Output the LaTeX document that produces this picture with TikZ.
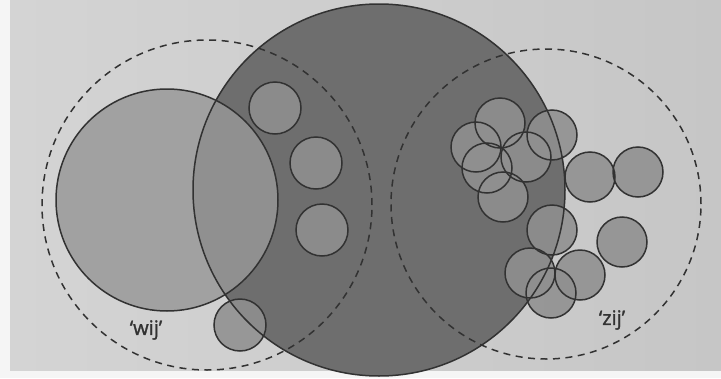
\documentclass[tikz,border=0pt]{standalone}
\usepackage{fontspec}
\setmainfont{Open Sans}
\newfontfamily\lblfont[FakeBold=1.3]{Open Sans}
\definecolor{pagebg}{RGB}{198,198,198}
\definecolor{pageleft}{RGB}{212,212,212}
\definecolor{darkfill}{RGB}{110,110,110}
\definecolor{smallfill}{RGB}{144,144,144}
\definecolor{wijfill}{RGB}{152,152,152}
\definecolor{edge}{RGB}{50,50,50}
\begin{document}
\begin{tikzpicture}[x=1pt,y=-1pt,
  disc/.style={circle, inner sep=0pt},
  bigcirc/.style={disc, fill=darkfill, minimum size=372pt},
  wijcirc/.style={disc, fill=wijfill, fill opacity=0.83, minimum size=222pt},
  dashcirc/.style={circle, draw=edge, line width=1.5pt, dash pattern=on 7pt off 5.5pt, inner sep=0pt},
  smallc/.style={disc, fill=smallfill, fill opacity=0.88, minimum size=52pt},
  rightc/.style={smallc, minimum size=50pt},
  outline/.style={draw=edge, line width=1.5pt},
  lbl/.style={font=\lblfont\fontsize{20}{24}\selectfont, text=edge}]
\useasboundingbox (0,0) rectangle (721,378);
\fill[white!92!gray] (0,0) rectangle (721,378);
\shade[left color=pageleft, right color=pagebg] (10,0) rectangle (721,370);
% fills
\node[bigcirc] (big) at (379,190) {};
\node[wijcirc] (wij) at (167,200) {};
\node[smallc] (l1) at (275,108) {};
\node[smallc] (l2) at (316,163) {};
\node[smallc] (l3) at (322,230) {};
\node[smallc] (l4) at (240,325) {};
\node[rightc] (r1) at (500,123) {};
\node[rightc] (r2) at (476,147) {};
\node[rightc] (r3) at (552,135) {};
\node[rightc] (r4) at (487,168) {};
\node[rightc] (r5) at (526,157) {};
\node[rightc] (r6) at (503,197) {};
\node[rightc] (r7) at (590,177) {};
\node[rightc] (r8) at (638,172) {};
\node[rightc] (r9) at (552,230) {};
\node[rightc] (r10) at (622,242) {};
\node[rightc] (r11) at (530,273) {};
\node[rightc] (r12) at (580,275) {};
\node[rightc] (r13) at (551,293) {};
% dashed group circles
\node[dashcirc, minimum size=330pt] (wijgroup) at (207,205) {};
\node[dashcirc, minimum size=310pt] (zijgroup) at (546,204) {};
% outlines
\draw[outline] (big.center) circle[radius=186];
\draw[outline] (wij.center) circle[radius=111];
\foreach \n in {l1,l2,l3,l4} \draw[outline] (\n.center) circle[radius=26];
\foreach \n in {r1,r2,r3,r4,r5,r6,r7,r8,r9,r10,r11,r12,r13} \draw[outline] (\n.center) circle[radius=25];
% labels
\node[lbl] (wijlabel) at (146,330) {‘wij’};
\node[lbl] (zijlabel) at (612,320) {‘zij’};
\end{tikzpicture}
\end{document}
